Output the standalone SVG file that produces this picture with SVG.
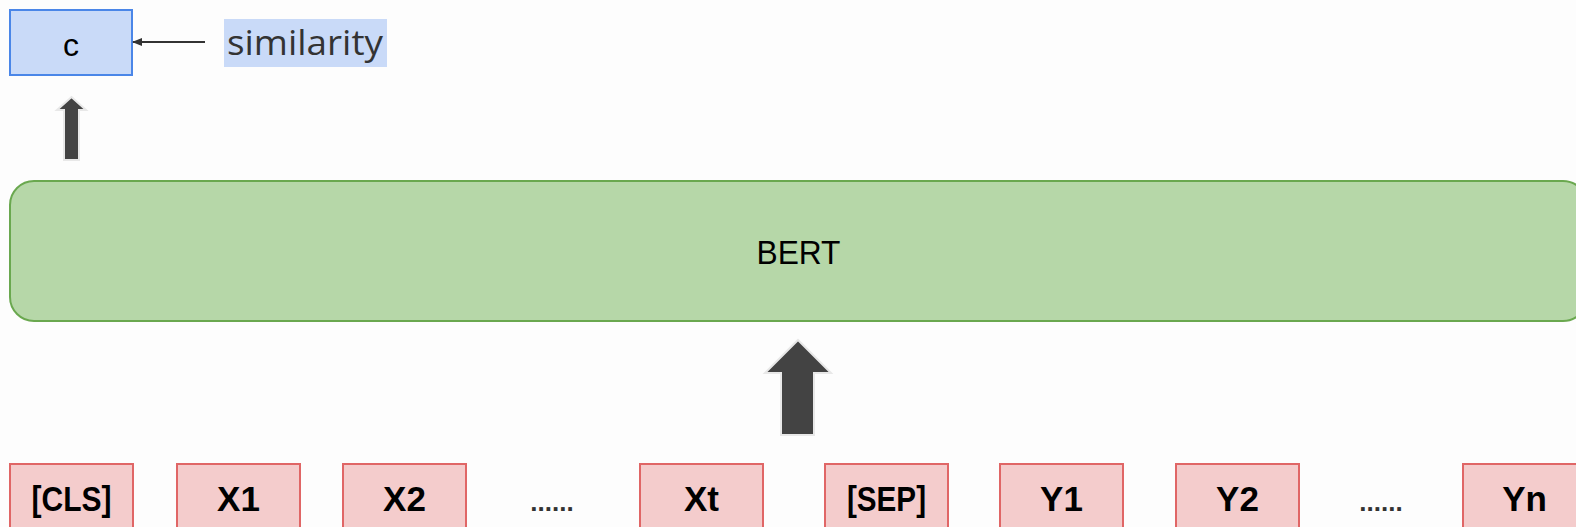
<svg xmlns="http://www.w3.org/2000/svg" width="1576" height="527" viewBox="0 0 1576 527">
  <style>
    .token rect { fill: #f4cccc; stroke: #e06666; stroke-width: 2; }
    .token text { font-family: "Liberation Sans", Arial, sans-serif; font-weight: bold; font-size: 35px; fill: #000; text-anchor: middle; }
    .dots { font-family: "Liberation Sans", Arial, sans-serif; font-weight: bold; font-size: 26px; fill: #333; text-anchor: middle; }
    .fat-arrow { fill: #434343; stroke: #e8e8e8; stroke-width: 2; stroke-linejoin: miter; }
  </style>
  <defs>
    <marker id="head" viewBox="0 0 10 10" refX="9" refY="5" markerWidth="10" markerHeight="10" markerUnits="userSpaceOnUse" orient="auto">
      <path d="M0,1 L10,5 L0,9 Z" fill="#333"/>
    </marker>
  </defs>
  <rect width="1576" height="527" fill="#fdfdfd"/>

  <!-- output node -->
  <g id="node-c">
    <rect x="10" y="10" width="122" height="65" fill="#c9daf8" stroke="#4a86e8" stroke-width="2"/>
    <text x="71" y="56" font-family="Liberation Sans, Arial, sans-serif" font-size="32" text-anchor="middle" fill="#000">c</text>
  </g>

  <!-- label feeding the output -->
  <g id="node-similarity">
    <rect x="224" y="19" width="163" height="48" fill="#c9daf8"/>
    <text x="227" y="55" font-family="Open Sans, sans-serif" font-size="34" fill="#333" textLength="156" lengthAdjust="spacingAndGlyphs">similarity</text>
  </g>

  <!-- encoder -->
  <g id="node-bert">
    <rect x="10" y="181" width="1577" height="140" rx="24" ry="24" fill="#b6d7a8" stroke="#6aa84f" stroke-width="2"/>
    <text x="798.5" y="264" font-family="Liberation Sans, Arial, sans-serif" font-size="34" text-anchor="middle" fill="#000" textLength="84" lengthAdjust="spacingAndGlyphs">BERT</text>
  </g>

  <!-- input tokens -->
  <g id="tok-cls" class="token"><rect x="10" y="464" width="123" height="80"/><text x="71.5" y="511" textLength="80" lengthAdjust="spacingAndGlyphs">[CLS]</text></g>
  <g id="tok-x1" class="token"><rect x="177" y="464" width="123" height="80"/><text x="238.5" y="511">X1</text></g>
  <g id="tok-x2" class="token"><rect x="343" y="464" width="123" height="80"/><text x="404.5" y="511">X2</text></g>
  <g id="dots-x"><text class="dots" x="552" y="511">......</text></g>
  <g id="tok-xt" class="token"><rect x="640" y="464" width="123" height="80"/><text x="701.5" y="511">Xt</text></g>
  <g id="tok-sep" class="token"><rect x="825" y="464" width="123" height="80"/><text x="886.5" y="511" textLength="79" lengthAdjust="spacingAndGlyphs">[SEP]</text></g>
  <g id="tok-y1" class="token"><rect x="1000" y="464" width="123" height="80"/><text x="1061.5" y="511">Y1</text></g>
  <g id="tok-y2" class="token"><rect x="1176" y="464" width="123" height="80"/><text x="1237.5" y="511">Y2</text></g>
  <g id="dots-y"><text class="dots" x="1381" y="511">......</text></g>
  <g id="tok-yn" class="token"><rect x="1463" y="464" width="123" height="80"/><text x="1524.5" y="511">Yn</text></g>

  <!-- connectors -->
  <g id="connectors">
    <line x1="205" y1="42" x2="133" y2="42" stroke="#333" stroke-width="2" marker-end="url(#head)"/>
    <path class="fat-arrow" d="M64,160 L64,110 L57,110 L71.5,97 L86,110 L79,110 L79,160 Z"/>
    <path class="fat-arrow" d="M781,435 L781,373 L765,373 L798,340 L831,373 L814,373 L814,435 Z"/>
  </g>
</svg>
